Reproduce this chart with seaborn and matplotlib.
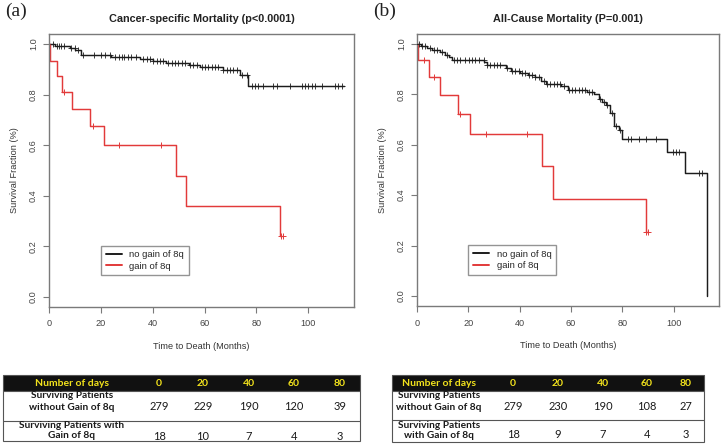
import numpy as np
import pandas as pd
import seaborn as sns
import matplotlib
matplotlib.use("Agg")
import matplotlib.pyplot as plt
from matplotlib.patches import Rectangle

# ---- data ----
# panel (a) cancer-specific mortality
a_no_t = [0, 2.5, 8, 10, 12.5, 24, 35, 40, 45.3, 54, 58.2, 67.2, 73.6, 76.8, 113.8]
a_no_s = [1.0, 0.993, 0.984, 0.975, 0.958, 0.95, 0.941, 0.934, 0.927, 0.918, 0.909, 0.899, 0.879, 0.835, 0.835]
a_no_cens = [1.5, 2.9, 3.9, 4.8, 5.7, 8.6, 9.9, 11.2, 13.1, 17.4, 20.2, 21.5, 23.4, 25.4, 27, 28, 28.8,
             30.5, 31.8, 33.7, 36.3, 37.6, 38.9, 40.2, 41.5, 42.7, 44, 46, 47.3, 48.5, 49.8, 51.1, 52.4,
             54.3, 55.6, 56.9, 58.8, 60.1, 61.4, 62.7, 64, 65.3, 67.2, 68.5, 69.8, 71, 72.4, 74.3, 76.2,
             78.1, 79.4, 80.7, 82.6, 86.5, 87.8, 93, 97.5, 98.7, 100, 101.3, 102.6, 105.2, 110.3, 111.6, 112.9]
a_gain_t = [0, 0.4, 3.1, 4.9, 8.9, 16, 21.2, 49, 53, 89, 90]
a_gain_s = [1.0, 0.935, 0.873, 0.81, 0.744, 0.676, 0.60, 0.48, 0.361, 0.24, 0.24]
a_gain_cens = [5.9, 17, 27, 43, 89.6, 90.2]

# panel (b) all-cause mortality
b_no_t = [0, 1.5, 4, 6, 9, 11, 12.5, 13.7, 26, 27.2, 34.5, 36.7, 40, 43.2, 45.8, 48.4, 50.3, 56.1,
          58.7, 66.2, 68.8, 70.7, 72, 73.5, 75.3, 76.8, 78.5, 79.8, 97.3, 104.4, 113]
b_no_s = [1.0, 0.992, 0.985, 0.977, 0.968, 0.958, 0.948, 0.937, 0.928, 0.918, 0.905, 0.893, 0.887,
          0.878, 0.868, 0.855, 0.842, 0.832, 0.818, 0.81, 0.80, 0.782, 0.77, 0.757, 0.727, 0.674,
          0.66, 0.624, 0.571, 0.488, 0.0]
b_no_cens = [0.6, 1.9, 3.2, 5.2, 6.5, 7.8, 9.7, 11.7, 14.3, 15.6, 16.9, 18.8, 20.1, 21.4, 22.7, 24,
             25.9, 27.2, 28.6, 29.9, 31.2, 32.5, 35.1, 37, 38.3, 39.6, 40.9, 42.2, 43.5, 44.8, 46.1,
             47.4, 49.3, 50.7, 51.9, 53.2, 54.6, 55.8, 57.1, 59.1, 60.4, 61.7, 63, 64.3, 65.6, 66.9,
             68.2, 71.4, 72.7, 74.1, 76, 77.3, 79.2, 82.1, 83.4, 86.6, 89, 93.1, 99.6, 100.9, 102.2,
             110, 111]
b_gain_t = [0, 0.4, 4.8, 8.8, 16, 20.8, 48.7, 52.9, 89, 89.8]
b_gain_s = [1.0, 0.937, 0.87, 0.797, 0.724, 0.644, 0.514, 0.384, 0.254, 0.254]
b_gain_cens = [2.6, 6.6, 16.9, 27, 42.9, 89.3, 89.9]

# risk tables
days = [0, 20, 40, 60, 80]
a_at_risk_no = [279, 229, 190, 120, 39]
a_at_risk_gain = [18, 10, 7, 4, 3]
b_at_risk_no = [279, 230, 190, 108, 27]
b_at_risk_gain = [18, 9, 7, 4, 3]

titles = ["Cancer-specific Mortality (p<0.0001)", "All-Cause Mortality (P=0.001)"]
panel_tags = ["(a)", "(b)"]
legend_labels = ["no gain of 8q", "gain of 8q"]

BLACK = "#1c1c1c"
RED = "#e23a3a"
GREY = "#7a7a7a"

sns.set_style("white")
plt.rcParams["font.family"] = ["Liberation Sans", "DejaVu Sans"]

fig = plt.figure(figsize=(7.22, 4.48), dpi=100)
ax_a = fig.add_axes([49 / 722, 1 - 307 / 448, 305 / 722, 273 / 448])
ax_b = fig.add_axes([417 / 722, 1 - 306 / 448, 302 / 722, 272 / 448])


def censor_y(times, surv, cens):
    idx = np.searchsorted(times, cens, side="right") - 1
    return np.asarray(surv)[idx]


def km_panel(ax, no_t, no_s, no_c, g_t, g_s, g_c, title, tag):
    sns.lineplot(x=no_t, y=no_s, drawstyle="steps-post", estimator=None, sort=False,
                 color=BLACK, lw=1.05, ax=ax, label=legend_labels[0])
    sns.lineplot(x=g_t, y=g_s, drawstyle="steps-post", estimator=None, sort=False,
                 color=RED, lw=1.05, ax=ax, label=legend_labels[1])
    sns.scatterplot(x=no_c, y=censor_y(no_t, no_s, no_c), marker="+", s=18, color=BLACK,
                    linewidth=0.6, ax=ax, legend=False, zorder=3)
    sns.scatterplot(x=g_c, y=censor_y(g_t, g_s, g_c), marker="+", s=22, color=RED,
                    linewidth=0.7, ax=ax, legend=False, zorder=3)

    ax.set_xlim(0, 117.6)
    ax.set_ylim(-0.04, 1.04)
    ax.set_xticks([0, 20, 40, 60, 80, 100])
    ax.set_yticks([0.0, 0.2, 0.4, 0.6, 0.8, 1.0])
    ax.set_yticklabels(["0.0", "0.2", "0.4", "0.6", "0.8", "1.0"], rotation=90, va="center")
    ax.tick_params(axis="x", pad=5)
    ax.tick_params(axis="y", pad=4)
    ax.tick_params(axis="both", direction="out", length=4, width=0.8, color=GREY,
                   labelcolor="#444444", labelsize=6.6, left=True, bottom=True)
    for sp in ax.spines.values():
        sp.set_color(GREY)
        sp.set_linewidth(1.0)
    ax.set_xlabel("Time to Death (Months)", fontsize=6.6, color="#333333", labelpad=10)
    ax.set_ylabel("Survival Fraction (%)", fontsize=6.6, color="#333333", labelpad=7)
    ax.set_title(title, fontsize=7.8, fontweight="bold", color="#222222", pad=9)
    ax.text(-0.145, 1.084, tag, transform=ax.transAxes, fontsize=14,
            family=["Liberation Serif", "DejaVu Serif"], color="#222222", va="center")
    leg = ax.legend(loc="upper left", bbox_to_anchor=(0.17, 0.225), fontsize=6.8,
                    frameon=True, fancybox=False, handlelength=1.7, borderpad=0.5,
                    labelspacing=0.25, handletextpad=0.8, borderaxespad=0)
    leg.get_frame().set_edgecolor(GREY)
    leg.get_frame().set_linewidth(1.0)
    for h in leg.get_lines():
        h.set_linewidth(1.4)


km_panel(ax_a, a_no_t, a_no_s, a_no_cens, a_gain_t, a_gain_s, a_gain_cens, titles[0], panel_tags[0])
km_panel(ax_b, b_no_t, b_no_s, b_no_cens, b_gain_t, b_gain_s, b_gain_cens, titles[1], panel_tags[1])

# ---- number-at-risk tables, drawn in pixel space ----
tab = fig.add_axes([0, 0, 1, 1])
tab.set_xlim(0, 722)
tab.set_ylim(448, 0)
tab.axis("off")
TFONT = ["Lato", "DejaVu Sans"]
YEL = "#f2e21c"


def risk_table(x0, x1, y_top, y_head, y_mid, y_bot, label_x, col_x, row1, row2, lab1, lab2):
    tab.add_patch(Rectangle((x0, y_top), x1 - x0, y_head - y_top, facecolor="#111111",
                            edgecolor="#555555", lw=0.8))
    tab.add_patch(Rectangle((x0, y_head), x1 - x0, y_bot - y_head, facecolor="white",
                            edgecolor="#555555", lw=0.8))
    tab.plot([x0, x1], [y_mid, y_mid], color="#555555", lw=0.8)
    yh = (y_top + y_head) / 2
    tab.text(label_x, yh, "Number of days", color=YEL, fontsize=7.5, fontweight="bold",
             family=TFONT, ha="center", va="center")
    for cx, d in zip(col_x, days):
        tab.text(cx, yh, str(d), color=YEL, fontsize=7.5, fontweight="bold", family=TFONT,
                 ha="center", va="center")
    for (ya, yb), lab, vals in [((y_head + 5, y_head + 16), lab1, row1),
                                ((y_mid + 5, y_mid + 15), lab2, row2)]:
        tab.text(label_x, ya, lab[0], fontsize=7.3, fontweight="bold", family=TFONT,
                 color="#1a1a1a", ha="center", va="center")
        tab.text(label_x, yb, lab[1], fontsize=7.3, fontweight="bold", family=TFONT,
                 color="#1a1a1a", ha="center", va="center")
        for cx, v in zip(col_x, vals):
            tab.text(cx, yb, str(v), fontsize=8, family=TFONT, color="#1a1a1a",
                     ha="center", va="center")


risk_table(3, 360, 375, 391, 421, 441, 72, [159, 203, 249, 294, 340],
           a_at_risk_no, a_at_risk_gain,
           ["Surviving Patients", "without Gain of 8q"],
           ["Surviving Patients with", "Gain of 8q"])
risk_table(392, 704, 375, 391, 420, 442, 439, [513, 558, 603, 647, 686],
           b_at_risk_no, b_at_risk_gain,
           ["Surviving Patients", "without Gain of 8q"],
           ["Surviving Patients", "with Gain of 8q"])

fig.savefig("out.png", dpi=100)
